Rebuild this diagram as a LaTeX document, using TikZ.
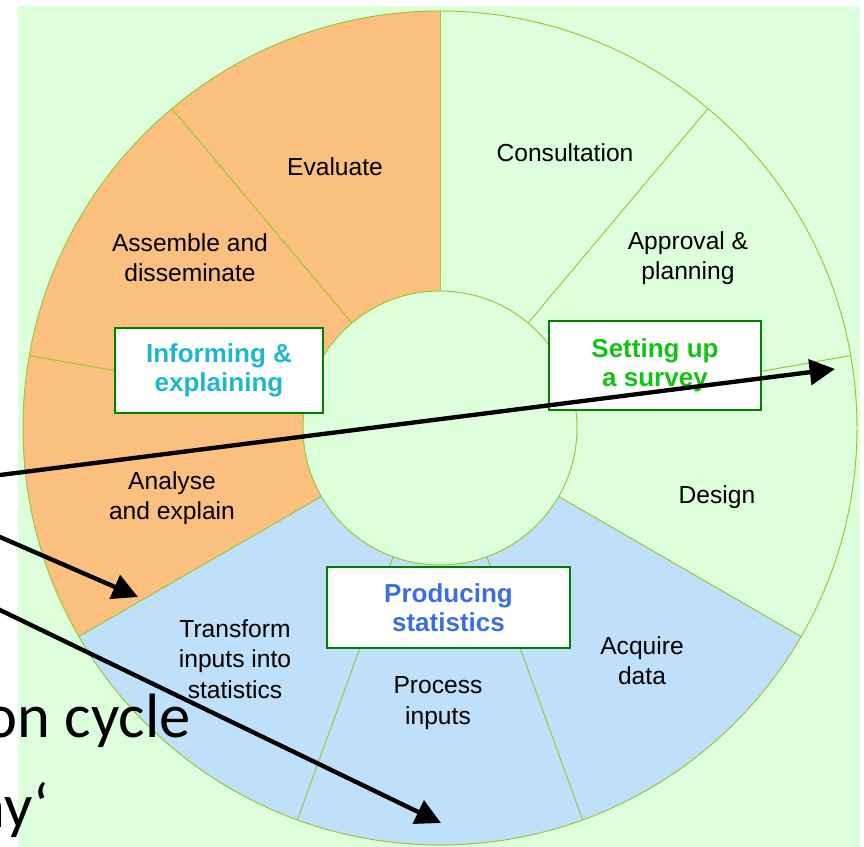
\documentclass[tikz,border=0pt]{standalone}
\usepackage{fontspec}
\setmainfont{Liberation Sans}
\newfontfamily\slidefont{Carlito}
\usetikzlibrary{arrows.meta}

\definecolor{ringgreen}{RGB}{222,255,220}
\definecolor{ringorange}{RGB}{251,191,128}
\definecolor{ringblue}{RGB}{190,224,250}
\definecolor{ringline}{RGB}{154,200,50}
\definecolor{boxgreen}{RGB}{0,128,0}
\definecolor{informcyan}{RGB}{30,183,205}
\definecolor{setupgreen}{RGB}{18,196,18}
\definecolor{producingblue}{RGB}{60,110,224}

\tikzset{
  phase/.style={draw=boxgreen, line width=1.9pt, fill=white, align=center,
    font=\fontsize{18.5}{21}\selectfont\bfseries},
  stage/.style={align=center, font=\fontsize{17.5}{21.5}\selectfont},
  slide/.style={anchor=base east, inner sep=0pt, font=\slidefont\fontsize{44.5}{50}\selectfont},
  pointer/.style={line width=3.1pt, -{Triangle[length=18pt,width=18pt]}}
}

\begin{document}
\begin{tikzpicture}[x=0.025cm,y=0.025cm]
\useasboundingbox (0,0) rectangle (864,847);
\fill[white] (0,0) rectangle (864,847);
\clip (0,0) rectangle (864,847);
\fill[ringgreen] (18,0) rectangle (860,841);

% ring of nine stages, 40 degrees each
\coordinate (c) at (440,419);
\begin{scope}[shift={(c)}]
\foreach \a/\col in {90/ringorange,130/ringorange,170/ringorange,
                     210/ringblue,250/ringblue,290/ringblue}
  \fill[\col] (\a:417) arc[start angle=\a, delta angle=40, radius=417]
    -- ({\a+40}:137) arc[start angle=\a+40, delta angle=-40, radius=137] -- cycle;
\draw[ringline, line width=0.7pt] (0,0) circle[radius=417];
\draw[ringline, line width=0.7pt] (0,0) circle[radius=137];
\foreach \a in {10,50,...,330}
  \draw[ringline, line width=0.7pt] (\a:137) -- (\a:417);
\end{scope}

% phase boxes
\node[phase, text=informcyan, minimum width=5.2cm, minimum height=2.125cm] (inform) at (219,476.5) {Informing \&\\explaining};
\node[phase, text=setupgreen, minimum width=5.3cm, minimum height=2.225cm] (setup) at (655,481.5) {Setting up\\a survey};
\node[phase, text=producingblue, minimum width=6.075cm, minimum height=2.025cm] (producing) at (448.5,239.5) {Producing\\statistics};

% stages
\node[stage] (evaluate) at (335,680) {Evaluate};
\node[stage] (assemble) at (190,589) {Assemble and\\disseminate};
\node[stage] (consult) at (565,694) {Consultation};
\node[stage] (approval) at (688,589) {Approval \&\\planning};
\node[stage] (design) at (717,350) {Design};
\node[stage] (acquire) at (642,186) {Acquire\\data};
\node[stage] (process) at (438,144) {Process\\inputs};
\node[stage] (transform) at (235,188) {Transform\\inputs into\\statistics};
\node[stage] (analyse) at (172,349) {Analyse\\and explain};

% slide text
\node[slide] (cycle) at (191,109) {on cycle};
\node[slide] (taxo) at (49,19) {ny‘};

% arrows
\coordinate (from1) at (-10,370.7);
\coordinate (to1) at (835,478);
\coordinate (from2) at (-10,314.3);
\coordinate (to2) at (138,250);
\coordinate (from3) at (-10,241.8);
\coordinate (to3) at (441,24);
\draw[pointer] (from1) -- (to1);
\draw[pointer] (from2) -- (to2);
\draw[pointer] (from3) -- (to3);
\end{tikzpicture}
\end{document}
